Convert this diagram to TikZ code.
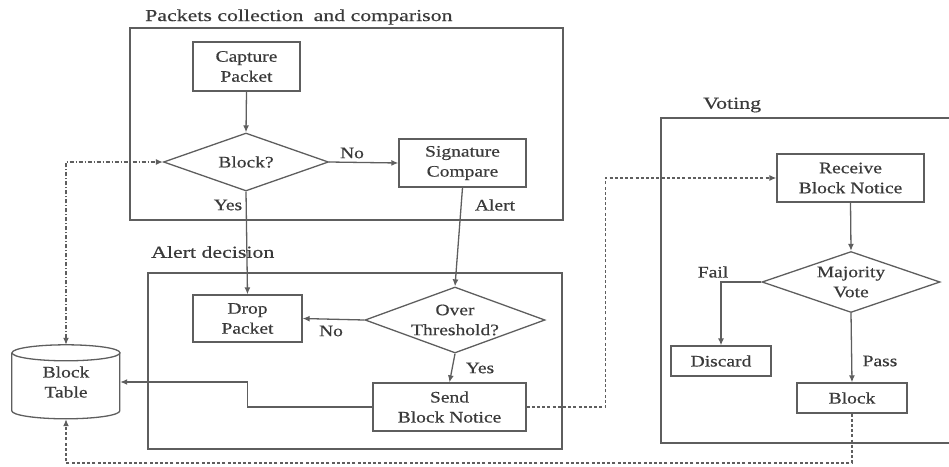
\documentclass[tikz,border=0pt]{standalone}
\usepackage{fontspec}
\setmainfont[FakeStretch=1.22,FakeBold=0.5]{Liberation Serif}
\newfontfamily\titlefont[FakeStretch=1.3,FakeBold=0.5]{Liberation Serif}
\usetikzlibrary{arrows.meta,shapes.geometric}
\definecolor{linegray}{HTML}{5E5E5E}
\definecolor{textgray}{HTML}{3A3A3A}
\tikzset{
  every node/.style={text=textgray, font=\fontsize{16}{20}\selectfont},
  stepbox/.style={draw=linegray, line width=1.3pt, rectangle, inner sep=0pt, align=center},
  decision/.style={draw=linegray, line width=1.3pt, diamond, inner sep=0pt},
  plain/.style={inner sep=0pt, align=center},
  grouptitle/.style={inner sep=0pt, anchor=west, font=\titlefont\fontsize{16.8}{20}\selectfont},
  group/.style={draw=linegray, line width=1.3pt},
  flow/.style={draw=linegray, line width=1.3pt, -{Latex[length=7pt,width=6pt]}},
  notice/.style={draw=linegray, line width=1.3pt, dash pattern=on 3pt off 2.2pt, -{Latex[length=7pt,width=6pt]}},
  lookup/.style={draw=linegray, line width=1.3pt, dash pattern=on 4pt off 2pt on 1pt off 2pt,
                 {Latex[length=7pt,width=6pt]}-{Latex[length=7pt,width=6pt]}},
}
\begin{document}
\begin{tikzpicture}[x=1pt,y=1pt]
\useasboundingbox (0,0) rectangle (949,-466);

% group frames and their titles
\draw[group] (130,-28) rectangle (563,-220);
\node[grouptitle] (t1) at (145,-17) {Packets collection\; and comparison};
\draw[group] (148,-273) rectangle (562,-449);
\node[grouptitle] (t2) at (151,-252) {Alert decision};
\draw[group] (952,-118) -- (661,-118) -- (661,-443) -- (952,-443);
\node[grouptitle] (t3) at (703,-105) {Voting};

% packet collection
\node[stepbox, minimum width=107pt, minimum height=49pt] (cap) at (246.5,-66.5) {Capture\\Packet};
\node[decision, minimum width=165pt, minimum height=58pt] (blk) at (246,-162) {};
\node[plain] (blkt) at (blk.center) {Block?};
\node[stepbox, minimum width=127pt, minimum height=48pt] (sig) at (462.5,-163) {Signature\\Compare};

% alert decision
\node[stepbox, minimum width=109pt, minimum height=47pt] (drop) at (247.5,-318.5) {Drop\\Packet};
\node[decision, minimum width=180pt, minimum height=66pt] (over) at (455,-320) {};
\node[plain] (overt) at (over.center) {Over\\Threshold?};
\node[stepbox, minimum width=153pt, minimum height=48pt] (send) at (449.5,-407) {Send\\Block Notice};

% block table store
\node[plain, minimum width=108pt, minimum height=74pt] (bt) at (66,-382) {Block\\Table};
\draw[linegray, line width=1.3pt]
  (bt.north west) ++(0,-8) -- ++(0,-58)
  arc[start angle=180, end angle=360, x radius=54, y radius=8] -- ++(0,58);
\draw[linegray, line width=1.3pt] ([yshift=-8pt]bt.north) ellipse[x radius=54, y radius=8];

% voting
\node[stepbox, minimum width=147pt, minimum height=48pt] (rec) at (850.5,-178) {Receive\\Block Notice};
\node[decision, minimum width=178pt, minimum height=61pt] (maj) at (851,-282) {};
\node[plain] (majt) at (maj.center) {Majority\\Vote};
\node[stepbox, minimum width=100pt, minimum height=30pt] (disc) at (721,-361) {Discard};
\node[stepbox, minimum width=110pt, minimum height=30pt] (vblk) at (852,-398) {Block};

% connectors
\draw[flow] (cap.south) -- (blk.north);
\draw[flow] (blk.east) -- (sig.west);
\draw[flow] (blk.south) -- (drop.north);
\draw[flow] (sig.south) -- (over.north);
\draw[flow] (over.west) -- (drop.east);
\draw[flow] (over.south) -- (send.north);
\draw[flow] (send.west) -- (send.west -| drop.south) |- (bt.east);
\draw[flow] (rec.south) -- (maj.north);
\draw[flow] (maj.west) -| (disc.north);
\draw[flow] (maj.south) -- (vblk.north);
\draw[notice] (send.east) -- ++(79,0) |- (rec.west);
\draw[notice] (vblk.south) -- (vblk.south |- 0,-463) -| (bt.south);
\draw[lookup] (bt.north) |- (blk.west);

% branch labels
\node[plain] (lno1) at (352,-153) {No};
\node[plain] (lyes1) at (228,-205) {Yes};
\node[plain] (lalert) at (495,-205) {Alert};
\node[plain] (lno2) at (331,-331) {No};
\node[plain] (lyes2) at (480,-368) {Yes};
\node[plain] (lfail) at (713,-272) {Fail};
\node[plain] (lpass) at (880,-361) {Pass};
\end{tikzpicture}
\end{document}
